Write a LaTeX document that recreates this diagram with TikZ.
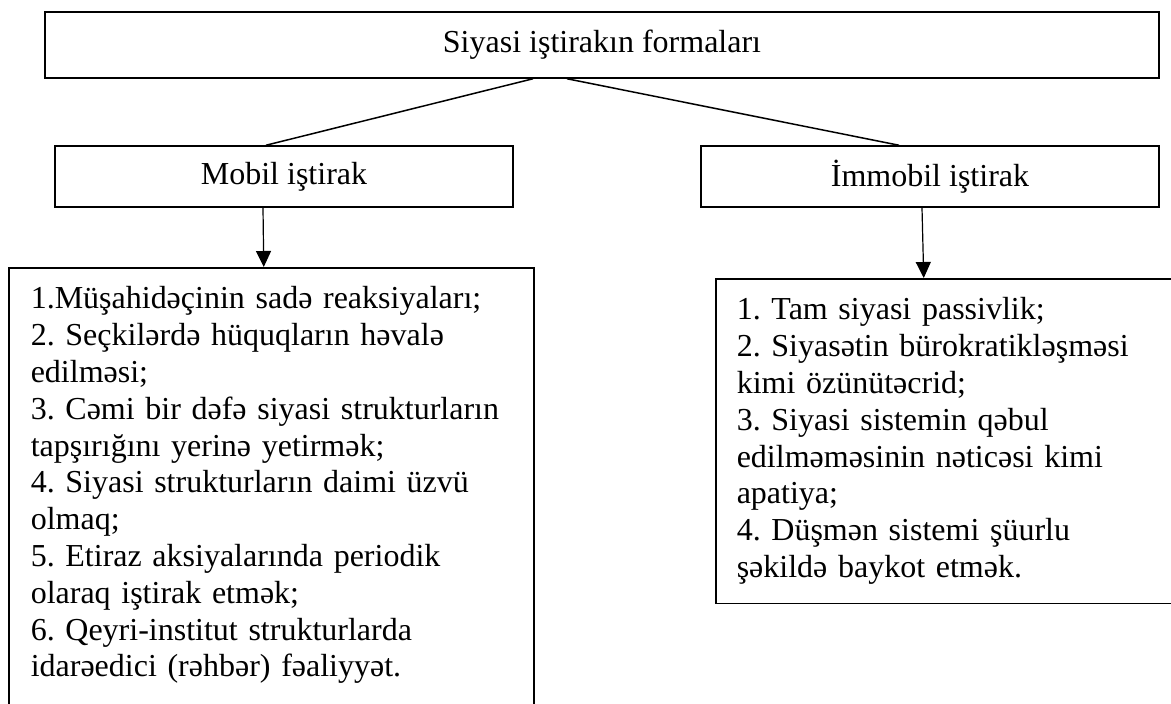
\documentclass[tikz,border=0pt]{standalone}
\usepackage{fontspec}
\setmainfont{Liberation Serif}
\usetikzlibrary{arrows.meta}
\frenchspacing

\begin{document}
\begin{tikzpicture}[x=1pt,y=-1pt,>={Triangle[width=15pt,length=16pt]},
  box/.style={draw,line width=1.5pt,font=\fontsize{32pt}{36.8pt}\selectfont},
  head/.style={box,minimum height=61pt,minimum width=458pt,inner sep=0pt},
  list/.style={box,anchor=north west,align=left,inner xsep=21pt,inner ysep=19pt}]
  \useasboundingbox (0,0) rectangle (1171,704);
  \clip (0,0) rectangle (1171,704);

  \node [box,minimum width=1114pt,minimum height=66pt] (forms) at (602,45) {Siyasi iştirakın formaları};
  \node [head] (mobil) at (284,176.5) {Mobil iştirak};
  \node [head] (immobil) at (930,176.5) {İmmobil iştirak};
  \node [list,text width=481pt,inner xsep=22pt] (mlist) at (8,267) {1.Müşahidəçinin sadə reaksiyaları;\\
    2. Seçkilərdə hüquqların həvalə\\
    edilməsi;\\
    3. Cəmi bir dəfə siyasi strukturların\\
    tapşırığını yerinə yetirmək;\\
    4. Siyasi strukturların daimi üzvü\\
    olmaq;\\
    5. Etiraz aksiyalarında periodik\\
    olaraq iştirak etmək;\\
    6. Qeyri-institut strukturlarda\\
    idarəedici (rəhbər) fəaliyyət.\rule[-60pt]{0pt}{0pt}};
  \node [list,text width=440pt] (ilist) at (715,278) {1. Tam siyasi passivlik;\\
    2. Siyasətin bürokratikləşməsi\\
    kimi özünütəcrid;\\
    3. Siyasi sistemin qəbul\\
    edilməməsinin nəticəsi kimi\\
    apatiya;\\
    4. Düşmən sistemi şüurlu\\
    şəkildə baykot etmək.};

  \path[-,line width=1.5pt] ([xshift=-69pt]forms.south) edge ([xshift=-18pt]mobil.north);
  \path[-,line width=1.5pt] ([xshift=-35pt]forms.south) edge ([xshift=-31pt]immobil.north);

  \path[->,line width=1.2pt] ([xshift=-21pt]mobil.south) edge ([xshift=-7.5pt]mlist.north);
  \path[->,line width=1.2pt] ([xshift=-8pt]immobil.south) edge ([xshift=-33pt]ilist.north);
\end{tikzpicture}
\end{document}
